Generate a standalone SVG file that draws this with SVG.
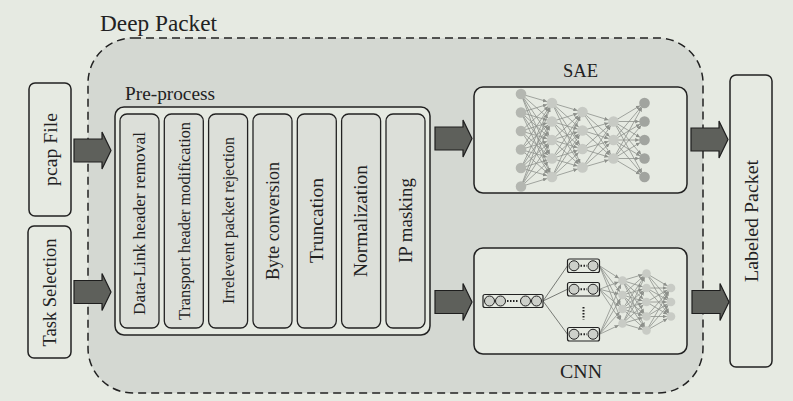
<svg xmlns="http://www.w3.org/2000/svg" width="793" height="401" viewBox="0 0 793 401">
<style>
text{font-family:"Liberation Serif","Times New Roman",serif;fill:#222;}
.box{fill:#e6eae2;stroke:#222;stroke-width:1.5;}
.step{fill:#dcdfd9;stroke:#222;stroke-width:1.3;}
.arrow{fill:#5e605b;stroke:#1e1e1e;stroke-width:1.2;stroke-linejoin:miter;}
.sae line{stroke:#8d908b;stroke-width:.8;marker-end:url(#ahS);}
.cnnd line{stroke:#8d908b;stroke-width:.8;marker-end:url(#ahC);}
.cnnl line{stroke:#777a75;stroke-width:1;}
.n1{fill:#b4b7b1;}
.n2{fill:#c7cac4;}
.n5{fill:#a1a49f;}
.nc{fill:#c8cbc5;}
.oc{fill:#cdd0ca;stroke:#222;stroke-width:1;}
.bar{fill:#e6eae2;stroke:#222;stroke-width:1.2;}
</style>
<defs>
<marker id="ahS" viewBox="0 0 6 6" refX="14" refY="3" markerWidth="4" markerHeight="4" orient="auto" markerUnits="userSpaceOnUse"><path d="M0,0 L6,3 L0,6 z" fill="#8d908b"/></marker>
<marker id="ahC" viewBox="0 0 6 6" refX="12.5" refY="3" markerWidth="4" markerHeight="4" orient="auto" markerUnits="userSpaceOnUse"><path d="M0,0 L6,3 L0,6 z" fill="#8d908b"/></marker>
<path id="blk" d="M0,-11.5 H28 V-18.5 L37,0 L28,18.5 V11.5 H0 Z"/>
</defs>
<rect width="793" height="401" fill="#e6eae2"/>

<g id="deep-packet">
<rect x="88" y="38" width="615" height="355" rx="45" fill="#d4d8d2" stroke="#222" stroke-width="1.5" stroke-dasharray="8,5"/>
<text x="100" y="31" font-size="23" textLength="117" lengthAdjust="spacingAndGlyphs">Deep Packet</text>
</g>

<g id="pcap-file">
<rect class="box" x="29" y="83" width="42" height="133" rx="6"/>
<text transform="translate(56.5,149.5) rotate(-90)" text-anchor="middle" font-size="19.5" textLength="73" lengthAdjust="spacingAndGlyphs">pcap File</text>
</g>

<g id="task-selection">
<rect class="box" x="28" y="226" width="43" height="132" rx="6"/>
<text transform="translate(56,292.5) rotate(-90)" text-anchor="middle" font-size="19" textLength="108" lengthAdjust="spacingAndGlyphs">Task Selection</text>
</g>

<g id="pre-process">
<text x="125" y="100" font-size="19" textLength="90" lengthAdjust="spacingAndGlyphs">Pre-process</text>
<rect class="box" x="115" y="107" width="315" height="228" rx="9"/>
<rect class="step" x="120" y="114" width="39" height="214" rx="7"/>
<rect class="step" x="164.3" y="114" width="39" height="214" rx="7"/>
<rect class="step" x="208.6" y="114" width="39" height="214" rx="7"/>
<rect class="step" x="253" y="114" width="39" height="214" rx="7"/>
<rect class="step" x="297.3" y="114" width="39" height="214" rx="7"/>
<rect class="step" x="341.6" y="114" width="39" height="214" rx="7"/>
<rect class="step" x="386" y="114" width="39" height="214" rx="7"/>
<text transform="translate(145.3,223.5) rotate(-90)" text-anchor="middle" font-size="16.2" textLength="183" lengthAdjust="spacingAndGlyphs">Data-Link header removal</text>
<text transform="translate(189.6,221) rotate(-90)" text-anchor="middle" font-size="16.2" textLength="198" lengthAdjust="spacingAndGlyphs">Transport header modification</text>
<text transform="translate(233.9,220.5) rotate(-90)" text-anchor="middle" font-size="16.2" textLength="167" lengthAdjust="spacingAndGlyphs">Irrelevent packet rejection</text>
<text transform="translate(278.8,221) rotate(-90)" text-anchor="middle" font-size="18.5" textLength="118" lengthAdjust="spacingAndGlyphs">Byte conversion</text>
<text transform="translate(323.1,220.5) rotate(-90)" text-anchor="middle" font-size="18.5" textLength="85" lengthAdjust="spacingAndGlyphs">Truncation</text>
<text transform="translate(367.4,221) rotate(-90)" text-anchor="middle" font-size="18.5" textLength="112" lengthAdjust="spacingAndGlyphs">Normalization</text>
<text transform="translate(411.8,220.5) rotate(-90)" text-anchor="middle" font-size="18.5" textLength="85" lengthAdjust="spacingAndGlyphs">IP masking</text>
</g>

<g id="sae">
<text x="580.5" y="77" text-anchor="middle" font-size="19" textLength="35" lengthAdjust="spacingAndGlyphs">SAE</text>
<rect class="box" x="474" y="87" width="213" height="106" rx="9"/>
<g class="sae">
<line x1="521" y1="94" x2="552" y2="103"/><line x1="521" y1="94" x2="552" y2="121.5"/><line x1="521" y1="94" x2="552" y2="140"/><line x1="521" y1="94" x2="552" y2="158.5"/><line x1="521" y1="94" x2="552" y2="177"/>
<line x1="521" y1="112.5" x2="552" y2="103"/><line x1="521" y1="112.5" x2="552" y2="121.5"/><line x1="521" y1="112.5" x2="552" y2="140"/><line x1="521" y1="112.5" x2="552" y2="158.5"/><line x1="521" y1="112.5" x2="552" y2="177"/>
<line x1="521" y1="131" x2="552" y2="103"/><line x1="521" y1="131" x2="552" y2="121.5"/><line x1="521" y1="131" x2="552" y2="140"/><line x1="521" y1="131" x2="552" y2="158.5"/><line x1="521" y1="131" x2="552" y2="177"/>
<line x1="521" y1="149.5" x2="552" y2="103"/><line x1="521" y1="149.5" x2="552" y2="121.5"/><line x1="521" y1="149.5" x2="552" y2="140"/><line x1="521" y1="149.5" x2="552" y2="158.5"/><line x1="521" y1="149.5" x2="552" y2="177"/>
<line x1="521" y1="168" x2="552" y2="103"/><line x1="521" y1="168" x2="552" y2="121.5"/><line x1="521" y1="168" x2="552" y2="140"/><line x1="521" y1="168" x2="552" y2="158.5"/><line x1="521" y1="168" x2="552" y2="177"/>
<line x1="521" y1="186.5" x2="552" y2="103"/><line x1="521" y1="186.5" x2="552" y2="121.5"/><line x1="521" y1="186.5" x2="552" y2="140"/><line x1="521" y1="186.5" x2="552" y2="158.5"/><line x1="521" y1="186.5" x2="552" y2="177"/>
<line x1="552" y1="103" x2="582.5" y2="112"/><line x1="552" y1="103" x2="582.5" y2="130.5"/><line x1="552" y1="103" x2="582.5" y2="149"/><line x1="552" y1="103" x2="582.5" y2="167.5"/>
<line x1="552" y1="121.5" x2="582.5" y2="112"/><line x1="552" y1="121.5" x2="582.5" y2="130.5"/><line x1="552" y1="121.5" x2="582.5" y2="149"/><line x1="552" y1="121.5" x2="582.5" y2="167.5"/>
<line x1="552" y1="140" x2="582.5" y2="112"/><line x1="552" y1="140" x2="582.5" y2="130.5"/><line x1="552" y1="140" x2="582.5" y2="149"/><line x1="552" y1="140" x2="582.5" y2="167.5"/>
<line x1="552" y1="158.5" x2="582.5" y2="112"/><line x1="552" y1="158.5" x2="582.5" y2="130.5"/><line x1="552" y1="158.5" x2="582.5" y2="149"/><line x1="552" y1="158.5" x2="582.5" y2="167.5"/>
<line x1="552" y1="177" x2="582.5" y2="112"/><line x1="552" y1="177" x2="582.5" y2="130.5"/><line x1="552" y1="177" x2="582.5" y2="149"/><line x1="552" y1="177" x2="582.5" y2="167.5"/>
<line x1="582.5" y1="112" x2="613.5" y2="121.5"/><line x1="582.5" y1="112" x2="613.5" y2="140"/><line x1="582.5" y1="112" x2="613.5" y2="158.5"/>
<line x1="582.5" y1="130.5" x2="613.5" y2="121.5"/><line x1="582.5" y1="130.5" x2="613.5" y2="140"/><line x1="582.5" y1="130.5" x2="613.5" y2="158.5"/>
<line x1="582.5" y1="149" x2="613.5" y2="121.5"/><line x1="582.5" y1="149" x2="613.5" y2="140"/><line x1="582.5" y1="149" x2="613.5" y2="158.5"/>
<line x1="582.5" y1="167.5" x2="613.5" y2="121.5"/><line x1="582.5" y1="167.5" x2="613.5" y2="140"/><line x1="582.5" y1="167.5" x2="613.5" y2="158.5"/>
<line x1="613.5" y1="121.5" x2="644.5" y2="103"/><line x1="613.5" y1="121.5" x2="644.5" y2="121.5"/><line x1="613.5" y1="121.5" x2="644.5" y2="140"/><line x1="613.5" y1="121.5" x2="644.5" y2="158.5"/><line x1="613.5" y1="121.5" x2="644.5" y2="177"/>
<line x1="613.5" y1="140" x2="644.5" y2="103"/><line x1="613.5" y1="140" x2="644.5" y2="121.5"/><line x1="613.5" y1="140" x2="644.5" y2="140"/><line x1="613.5" y1="140" x2="644.5" y2="158.5"/><line x1="613.5" y1="140" x2="644.5" y2="177"/>
<line x1="613.5" y1="158.5" x2="644.5" y2="103"/><line x1="613.5" y1="158.5" x2="644.5" y2="121.5"/><line x1="613.5" y1="158.5" x2="644.5" y2="140"/><line x1="613.5" y1="158.5" x2="644.5" y2="158.5"/><line x1="613.5" y1="158.5" x2="644.5" y2="177"/>
</g>
<g>
<circle class="n1" cx="521" cy="94" r="5.3"/><circle class="n1" cx="521" cy="112.5" r="5.3"/><circle class="n1" cx="521" cy="131" r="5.3"/><circle class="n1" cx="521" cy="149.5" r="5.3"/><circle class="n1" cx="521" cy="168" r="5.3"/><circle class="n1" cx="521" cy="186.5" r="5.3"/>
<circle class="n2" cx="552" cy="103" r="5.3"/><circle class="n2" cx="552" cy="121.5" r="5.3"/><circle class="n2" cx="552" cy="140" r="5.3"/><circle class="n2" cx="552" cy="158.5" r="5.3"/><circle class="n2" cx="552" cy="177" r="5.3"/>
<circle class="n2" cx="582.5" cy="112" r="5.3"/><circle class="n2" cx="582.5" cy="130.5" r="5.3"/><circle class="n2" cx="582.5" cy="149" r="5.3"/><circle class="n2" cx="582.5" cy="167.5" r="5.3"/>
<circle class="n2" cx="613.5" cy="121.5" r="5.3"/><circle class="n2" cx="613.5" cy="140" r="5.3"/><circle class="n2" cx="613.5" cy="158.5" r="5.3"/>
<circle class="n5" cx="644.5" cy="103" r="5.3"/><circle class="n5" cx="644.5" cy="121.5" r="5.3"/><circle class="n5" cx="644.5" cy="140" r="5.3"/><circle class="n5" cx="644.5" cy="158.5" r="5.3"/><circle class="n5" cx="644.5" cy="177" r="5.3"/>
</g>
</g>

<g id="cnn">
<rect class="box" x="474" y="248" width="213" height="106" rx="9"/>
<text x="581" y="378" text-anchor="middle" font-size="19" textLength="42" lengthAdjust="spacingAndGlyphs">CNN</text>
<g class="cnnl">
<line x1="543" y1="301" x2="567.5" y2="265.75"/><line x1="543" y1="301" x2="567.5" y2="289.25"/><line x1="543" y1="301" x2="567.5" y2="334.25"/>
</g>
<g class="cnnd">
<line x1="599.5" y1="265.75" x2="622.5" y2="280.5"/><line x1="599.5" y1="265.75" x2="622.5" y2="295"/><line x1="599.5" y1="265.75" x2="622.5" y2="309"/><line x1="599.5" y1="265.75" x2="622.5" y2="323.5"/>
<line x1="599.5" y1="289.25" x2="622.5" y2="280.5"/><line x1="599.5" y1="289.25" x2="622.5" y2="295"/><line x1="599.5" y1="289.25" x2="622.5" y2="309"/><line x1="599.5" y1="289.25" x2="622.5" y2="323.5"/>
<line x1="599.5" y1="334.25" x2="622.5" y2="280.5"/><line x1="599.5" y1="334.25" x2="622.5" y2="295"/><line x1="599.5" y1="334.25" x2="622.5" y2="309"/><line x1="599.5" y1="334.25" x2="622.5" y2="323.5"/>
<line x1="622.5" y1="280.5" x2="646.5" y2="273.5"/><line x1="622.5" y1="280.5" x2="646.5" y2="288"/><line x1="622.5" y1="280.5" x2="646.5" y2="302"/><line x1="622.5" y1="280.5" x2="646.5" y2="316.5"/><line x1="622.5" y1="280.5" x2="646.5" y2="330.5"/>
<line x1="622.5" y1="295" x2="646.5" y2="273.5"/><line x1="622.5" y1="295" x2="646.5" y2="288"/><line x1="622.5" y1="295" x2="646.5" y2="302"/><line x1="622.5" y1="295" x2="646.5" y2="316.5"/><line x1="622.5" y1="295" x2="646.5" y2="330.5"/>
<line x1="622.5" y1="309" x2="646.5" y2="273.5"/><line x1="622.5" y1="309" x2="646.5" y2="288"/><line x1="622.5" y1="309" x2="646.5" y2="302"/><line x1="622.5" y1="309" x2="646.5" y2="316.5"/><line x1="622.5" y1="309" x2="646.5" y2="330.5"/>
<line x1="622.5" y1="323.5" x2="646.5" y2="273.5"/><line x1="622.5" y1="323.5" x2="646.5" y2="288"/><line x1="622.5" y1="323.5" x2="646.5" y2="302"/><line x1="622.5" y1="323.5" x2="646.5" y2="316.5"/><line x1="622.5" y1="323.5" x2="646.5" y2="330.5"/>
<line x1="646.5" y1="273.5" x2="671" y2="288"/><line x1="646.5" y1="273.5" x2="671" y2="302"/><line x1="646.5" y1="273.5" x2="671" y2="316.5"/>
<line x1="646.5" y1="288" x2="671" y2="288"/><line x1="646.5" y1="288" x2="671" y2="302"/><line x1="646.5" y1="288" x2="671" y2="316.5"/>
<line x1="646.5" y1="302" x2="671" y2="288"/><line x1="646.5" y1="302" x2="671" y2="302"/><line x1="646.5" y1="302" x2="671" y2="316.5"/>
<line x1="646.5" y1="316.5" x2="671" y2="288"/><line x1="646.5" y1="316.5" x2="671" y2="302"/><line x1="646.5" y1="316.5" x2="671" y2="316.5"/>
<line x1="646.5" y1="330.5" x2="671" y2="288"/><line x1="646.5" y1="330.5" x2="671" y2="302"/><line x1="646.5" y1="330.5" x2="671" y2="316.5"/>
</g>
<rect class="bar" x="483" y="294.5" width="60" height="13" rx="2"/>
<circle class="oc" cx="489.5" cy="301" r="5"/><circle class="oc" cx="500.5" cy="301" r="5"/>
<line x1="507" y1="301" x2="519" y2="301" stroke="#222" stroke-width="2" stroke-dasharray="1.5,1.5"/>
<circle class="oc" cx="525.5" cy="301" r="5"/><circle class="oc" cx="536.5" cy="301" r="5"/>
<rect class="bar" x="567.5" y="259" width="32" height="13.5" rx="2"/>
<circle class="oc" cx="574" cy="265.75" r="5"/><circle class="oc" cx="593" cy="265.75" r="5"/>
<line x1="580.5" y1="265.75" x2="587" y2="265.75" stroke="#222" stroke-width="2" stroke-dasharray="1.5,1.5"/>
<rect class="bar" x="567.5" y="282.5" width="32" height="13.5" rx="2"/>
<circle class="oc" cx="574" cy="289.25" r="5"/><circle class="oc" cx="593" cy="289.25" r="5"/>
<line x1="580.5" y1="289.25" x2="587" y2="289.25" stroke="#222" stroke-width="2" stroke-dasharray="1.5,1.5"/>
<rect class="bar" x="567.5" y="327.5" width="32" height="13.5" rx="2"/>
<circle class="oc" cx="574" cy="334.25" r="5"/><circle class="oc" cx="593" cy="334.25" r="5"/>
<line x1="580.5" y1="334.25" x2="587" y2="334.25" stroke="#222" stroke-width="2" stroke-dasharray="1.5,1.5"/>
<line x1="583.5" y1="307" x2="583.5" y2="319.5" stroke="#222" stroke-width="2" stroke-dasharray="1.5,1.5"/>
<circle class="nc" cx="622.5" cy="280.5" r="4.3"/><circle class="nc" cx="622.5" cy="295" r="4.3"/><circle class="nc" cx="622.5" cy="309" r="4.3"/><circle class="nc" cx="622.5" cy="323.5" r="4.3"/>
<circle class="nc" cx="646.5" cy="273.5" r="4.3"/><circle class="nc" cx="646.5" cy="288" r="4.3"/><circle class="nc" cx="646.5" cy="302" r="4.3"/><circle class="nc" cx="646.5" cy="316.5" r="4.3"/><circle class="nc" cx="646.5" cy="330.5" r="4.3"/>
<circle class="nc" cx="671" cy="288" r="4.3"/><circle class="nc" cx="671" cy="302" r="4.3"/><circle class="nc" cx="671" cy="316.5" r="4.3"/>
</g>

<g id="labeled-packet">
<rect class="box" x="730" y="75" width="42" height="292" rx="6"/>
<text transform="translate(757.5,221) rotate(-90)" text-anchor="middle" font-size="19.5" textLength="122" lengthAdjust="spacingAndGlyphs">Labeled Packet</text>
</g>

<g id="connectors">
<use href="#blk" class="arrow" transform="translate(74,150.5) scale(1,1)"/>
<use href="#blk" class="arrow" transform="translate(74,292)"/>
<use href="#blk" class="arrow" transform="translate(435,138.5)"/>
<use href="#blk" class="arrow" transform="translate(435,302)"/>
<use href="#blk" class="arrow" transform="translate(691,139.5)"/>
<use href="#blk" class="arrow" transform="translate(692,302)"/>
</g>
</svg>
